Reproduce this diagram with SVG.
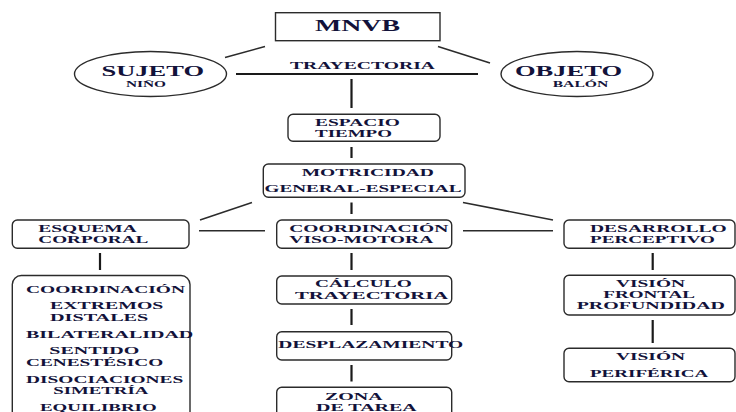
<svg xmlns="http://www.w3.org/2000/svg" width="736" height="412" viewBox="0 0 736 412">
  <style>
    .bg { fill: #ffffff; }
    .box { fill: #ffffff; stroke: #2b2b2b; stroke-width: 1.4; }
    .line { stroke: #2b2b2b; stroke-width: 1.5; fill: none; }
    .bar { stroke: #1a1a1a; stroke-width: 2.2; fill: none; }
    text { font-family: "Liberation Serif", "Times New Roman", serif; font-weight: bold; fill: #12123a; }
    .t { font-size: 11.3px; }
    .big { font-size: 16.5px; }
    .oval { font-size: 15.5px; }
    .small { font-size: 8px; }
    .mid { font-size: 11px; }
  </style>
  <rect class="bg" x="0" y="0" width="736" height="412"/>

  <!-- connectors -->
  <g id="connectors">
    <line class="line" x1="265" y1="46.5" x2="225" y2="57.5"/>
    <line class="line" x1="438" y1="46.5" x2="490" y2="63"/>
    <line class="bar" x1="236" y1="74" x2="478" y2="74"/>
    <line class="bar" x1="351.5" y1="79" x2="351.5" y2="108"/>
    <line class="bar" x1="351.5" y1="147" x2="351.5" y2="158"/>
    <line class="bar" x1="351.5" y1="202.5" x2="351.5" y2="214"/>
    <line class="line" x1="252" y1="202.5" x2="200" y2="220"/>
    <line class="line" x1="463" y1="202.5" x2="553" y2="220"/>
    <line class="line" x1="199" y1="230.7" x2="265" y2="230.7"/>
    <line class="line" x1="463" y1="230.7" x2="553" y2="230.7"/>
    <line class="bar" x1="100" y1="253" x2="100" y2="270"/>
    <line class="bar" x1="351.5" y1="253" x2="351.5" y2="270"/>
    <line class="bar" x1="652.7" y1="253" x2="652.7" y2="270"/>
    <line class="bar" x1="351.5" y1="309" x2="351.5" y2="325"/>
    <line class="bar" x1="351.5" y1="365" x2="351.5" y2="381.5"/>
    <line class="bar" x1="652.7" y1="320" x2="652.7" y2="343"/>
  </g>

  <g id="mnvb">
    <rect class="box" x="275.5" y="12.7" width="164.5" height="28"/>
    <text class="big" x="315" y="31" textLength="85" lengthAdjust="spacingAndGlyphs">MNVB</text>
  </g>

  <g id="trayectoria">
    <text class="mid" x="290" y="69" textLength="145" lengthAdjust="spacingAndGlyphs">TRAYECTORIA</text>
  </g>

  <g id="sujeto">
    <ellipse class="box" cx="150.5" cy="74" rx="76" ry="22.5"/>
    <text class="oval" x="101.5" y="76" textLength="102.5" lengthAdjust="spacingAndGlyphs">SUJETO</text>
    <text class="small" x="126" y="87" textLength="40" lengthAdjust="spacingAndGlyphs">NIÑO</text>
  </g>

  <g id="objeto">
    <ellipse class="box" cx="577" cy="74" rx="76" ry="22.5"/>
    <text class="oval" x="515" y="76" textLength="107" lengthAdjust="spacingAndGlyphs">OBJETO</text>
    <text class="small" x="552.7" y="87" textLength="55.6" lengthAdjust="spacingAndGlyphs">BALÓN</text>
  </g>

  <g id="espacio-tiempo">
    <rect class="box" x="288" y="114.3" width="152" height="27" rx="5"/>
    <text class="t" x="315" y="126" textLength="85" lengthAdjust="spacingAndGlyphs">ESPACIO</text>
    <text class="t" x="315" y="137" textLength="77" lengthAdjust="spacingAndGlyphs">TIEMPO</text>
  </g>

  <g id="motricidad">
    <rect class="box" x="263.3" y="164" width="201.7" height="33.3" rx="5"/>
    <text class="t" x="301.7" y="176" textLength="132.3" lengthAdjust="spacingAndGlyphs">MOTRICIDAD</text>
    <text class="t" x="264.5" y="192.3" textLength="197" lengthAdjust="spacingAndGlyphs">GENERAL-ESPECIAL</text>
  </g>

  <g id="esquema-corporal">
    <rect class="box" x="12.3" y="220" width="176.7" height="28.3" rx="5"/>
    <text class="t" x="38.3" y="231.7" textLength="98.4" lengthAdjust="spacingAndGlyphs">ESQUEMA</text>
    <text class="t" x="38.3" y="242.8" textLength="110" lengthAdjust="spacingAndGlyphs">CORPORAL</text>
  </g>

  <g id="coordinacion-viso-motora">
    <rect class="box" x="276.7" y="220" width="175" height="28.3" rx="5"/>
    <text class="t" x="289.3" y="231.7" textLength="159" lengthAdjust="spacingAndGlyphs">COORDINACIÓN</text>
    <text class="t" x="289.3" y="242.8" textLength="144" lengthAdjust="spacingAndGlyphs">VISO-MOTORA</text>
  </g>

  <g id="desarrollo-perceptivo">
    <rect class="box" x="564" y="220" width="171" height="28.3" rx="5"/>
    <text class="t" x="590" y="231.7" textLength="136.7" lengthAdjust="spacingAndGlyphs">DESARROLLO</text>
    <text class="t" x="590" y="242.8" textLength="125" lengthAdjust="spacingAndGlyphs">PERCEPTIVO</text>
  </g>

  <g id="componentes">
    <rect class="box" x="12.3" y="275.5" width="177.7" height="150" rx="9"/>
    <text class="t" x="26" y="292.7" textLength="159" lengthAdjust="spacingAndGlyphs">COORDINACIÓN</text>
    <text class="t" x="50" y="309" textLength="113.3" lengthAdjust="spacingAndGlyphs">EXTREMOS</text>
    <text class="t" x="50" y="320.7" textLength="98.3" lengthAdjust="spacingAndGlyphs">DISTALES</text>
    <text class="t" x="26" y="337.7" textLength="167.3" lengthAdjust="spacingAndGlyphs">BILATERALIDAD</text>
    <text class="t" x="49.3" y="354" textLength="90" lengthAdjust="spacingAndGlyphs">SENTIDO</text>
    <text class="t" x="26" y="365.7" textLength="137.3" lengthAdjust="spacingAndGlyphs">CENESTÉSICO</text>
    <text class="t" x="26" y="382.7" textLength="157.3" lengthAdjust="spacingAndGlyphs">DISOCIACIONES</text>
    <text class="t" x="53.3" y="394" textLength="95" lengthAdjust="spacingAndGlyphs">SIMETRÍA</text>
    <text class="t" x="40" y="410.7" textLength="116.7" lengthAdjust="spacingAndGlyphs">EQUILIBRIO</text>
  </g>

  <g id="calculo-trayectoria">
    <rect class="box" x="276.7" y="276" width="175" height="28" rx="5"/>
    <text class="t" x="315" y="286.7" textLength="96.7" lengthAdjust="spacingAndGlyphs">CÁLCULO</text>
    <text class="t" x="295" y="298.6" textLength="153.3" lengthAdjust="spacingAndGlyphs">TRAYECTORIA</text>
  </g>

  <g id="desplazamiento">
    <rect class="box" x="276.7" y="331.7" width="175" height="28.3" rx="5"/>
    <text class="t" x="278.3" y="348.3" textLength="185" lengthAdjust="spacingAndGlyphs">DESPLAZAMIENTO</text>
  </g>

  <g id="zona-de-tarea">
    <rect class="box" x="276.7" y="387.3" width="175" height="40" rx="5"/>
    <text class="t" x="325" y="400" textLength="57.7" lengthAdjust="spacingAndGlyphs">ZONA</text>
    <text class="t" x="316" y="411.2" textLength="100.7" lengthAdjust="spacingAndGlyphs">DE TAREA</text>
  </g>

  <g id="vision-frontal">
    <rect class="box" x="564" y="275.3" width="171" height="39.7" rx="5"/>
    <text class="t" x="616" y="287.3" textLength="69" lengthAdjust="spacingAndGlyphs">VISIÓN</text>
    <text class="t" x="603.3" y="298.3" textLength="91.7" lengthAdjust="spacingAndGlyphs">FRONTAL</text>
    <text class="t" x="576.7" y="309.3" textLength="148.3" lengthAdjust="spacingAndGlyphs">PROFUNDIDAD</text>
  </g>

  <g id="vision-periferica">
    <rect class="box" x="564" y="348.3" width="171" height="33.4" rx="5"/>
    <text class="t" x="616" y="360" textLength="69" lengthAdjust="spacingAndGlyphs">VISIÓN</text>
    <text class="t" x="590" y="376.7" textLength="118.3" lengthAdjust="spacingAndGlyphs">PERIFÉRICA</text>
  </g>
</svg>
